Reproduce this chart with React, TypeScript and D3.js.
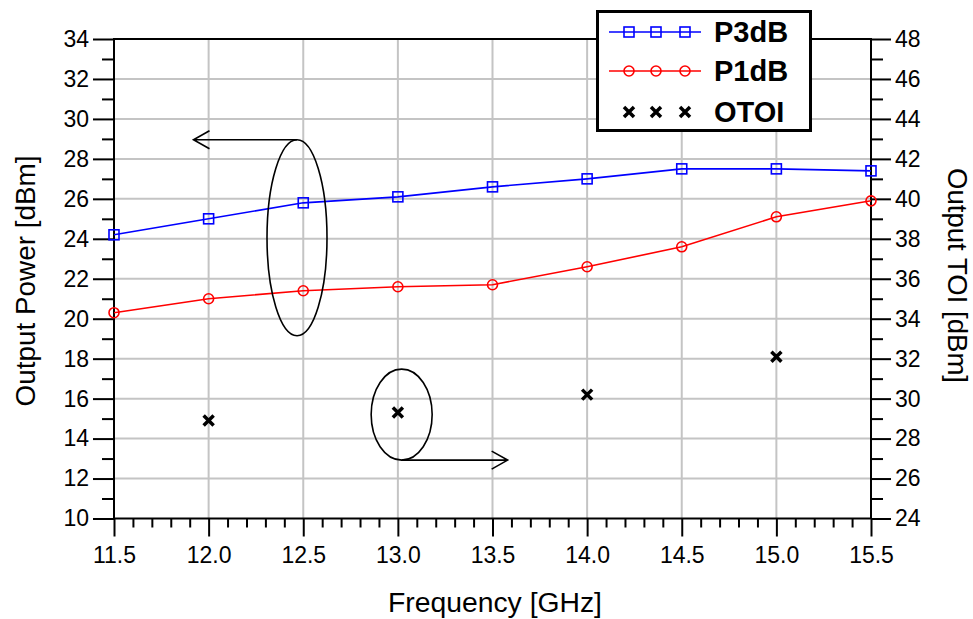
import React, { useEffect, useRef } from 'react';
import * as d3 from 'd3';

// frequency points (GHz)
const freqs = [11.5, 12.0, 12.5, 13.0, 13.5, 14.0, 14.5, 15.0, 15.5];
// left axis series (dBm)
const p3dB = [24.2, 25.0, 25.8, 26.1, 26.6, 27.0, 27.5, 27.5, 27.4];
const p1dB = [20.3, 21.0, 21.4, 21.6, 21.7, 22.6, 23.6, 25.1, 25.9];
// right axis series (dBm)
const otoiFreqs = [12.0, 13.0, 14.0, 15.0];
const otoi = [28.9, 29.3, 30.2, 32.1];

const xTicks = [11.5, 12.0, 12.5, 13.0, 13.5, 14.0, 14.5, 15.0, 15.5];
const leftTicks = [10, 12, 14, 16, 18, 20, 22, 24, 26, 28, 30, 32, 34];
const rightTicks = [24, 26, 28, 30, 32, 34, 36, 38, 40, 42, 44, 46, 48];

const legendNames = ['P3dB', 'P1dB', 'OTOI'];

const FONT = '"Liberation Sans", Arial, Helvetica, sans-serif';

export default function App() {
  const ref = useRef<SVGSVGElement | null>(null);

  useEffect(() => {
    const width = 973, height = 619;
    const left = 114, right = 871, top = 39, bottom = 518.5;

    const svg = d3.select(ref.current);
    svg.selectAll('*').remove();
    svg.attr('width', width).attr('height', height);

    const x = d3.scaleLinear().domain([11.5, 15.5]).range([left, right]);
    const yL = d3.scaleLinear().domain([10, 34]).range([bottom, top]);
    const yR = d3.scaleLinear().domain([24, 48]).range([bottom, top]);

    svg.append('rect').attr('width', width).attr('height', height).attr('fill', '#fff');

    // grid
    const grid = svg.append('g').attr('stroke', '#c4c4c4').attr('stroke-width', 2);
    grid.selectAll('.gx').data(xTicks.slice(1, -1)).enter().append('line')
      .attr('x1', d => x(d)).attr('x2', d => x(d)).attr('y1', top).attr('y2', bottom);
    grid.selectAll('.gy').data(leftTicks.slice(1, -1)).enter().append('line')
      .attr('y1', d => yL(d)).attr('y2', d => yL(d)).attr('x1', left).attr('x2', right);

    // axes
    const styleAxis = (g: any) => {
      g.select('.domain').remove();
      g.selectAll('line').attr('stroke', '#000').attr('stroke-width', 2);
      g.selectAll('text').attr('font-family', FONT).attr('font-size', 23).attr('fill', '#000');
    };

    const xMinor = d3.range(11.6, 15.5, 0.1).filter(v => Math.abs(v * 2 - Math.round(v * 2)) > 1e-6);
    svg.append('g').attr('transform', `translate(0,${bottom})`)
      .call(d3.axisBottom(x).tickValues(xMinor).tickSize(9).tickFormat(() => ''))
      .call(styleAxis);
    svg.append('g').attr('transform', `translate(0,${bottom})`)
      .call(d3.axisBottom(x).tickValues(xTicks).tickSize(18).tickPadding(10).tickFormat(d3.format('.1f')))
      .call(styleAxis);

    const leftMinor = d3.range(11, 34, 2);
    svg.append('g').attr('transform', `translate(${left},0)`)
      .call(d3.axisLeft(yL).tickValues(leftMinor).tickSize(12).tickFormat(() => ''))
      .call(styleAxis);
    svg.append('g').attr('transform', `translate(${left},0)`)
      .call(d3.axisLeft(yL).tickValues(leftTicks).tickSize(21).tickPadding(4).tickFormat(d3.format('d')))
      .call(styleAxis);

    const rightMinor = d3.range(25, 48, 2);
    svg.append('g').attr('transform', `translate(${right},0)`)
      .call(d3.axisRight(yR).tickValues(rightMinor).tickSize(12).tickFormat(() => ''))
      .call(styleAxis);
    svg.append('g').attr('transform', `translate(${right},0)`)
      .call(d3.axisRight(yR).tickValues(rightTicks).tickSize(20).tickPadding(4).tickFormat(d3.format('d')))
      .call(styleAxis);

    // frame
    svg.append('rect').attr('x', left).attr('y', top)
      .attr('width', right - left).attr('height', bottom - top)
      .attr('fill', 'none').attr('stroke', '#000').attr('stroke-width', 2);

    // titles
    svg.append('text').attr('x', 495).attr('y', 612).attr('text-anchor', 'middle')
      .attr('font-family', FONT).attr('font-size', 27)
      .attr('textLength', 214).attr('lengthAdjust', 'spacingAndGlyphs')
      .text('Frequency [GHz]');
    svg.append('text').attr('transform', 'translate(35,281) rotate(-90)').attr('text-anchor', 'middle')
      .attr('font-family', FONT).attr('font-size', 27)
      .attr('textLength', 251).attr('lengthAdjust', 'spacingAndGlyphs')
      .text('Output Power [dBm]');
    svg.append('text').attr('transform', 'translate(948,275.5) rotate(90)').attr('text-anchor', 'middle')
      .attr('font-family', FONT).attr('font-size', 27)
      .attr('textLength', 215).attr('lengthAdjust', 'spacingAndGlyphs')
      .text('Output TOI [dBm]');

    // series
    const lineL = d3.line<number>().x((_, i) => x(freqs[i]));
    svg.append('path').attr('d', lineL.y(d => yL(d))(p3dB))
      .attr('fill', 'none').attr('stroke', '#0000ff').attr('stroke-width', 1.6);
    svg.append('path').attr('d', lineL.y(d => yL(d))(p1dB))
      .attr('fill', 'none').attr('stroke', '#ff0000').attr('stroke-width', 1.6);

    svg.selectAll('.sq').data(p3dB).enter().append('rect')
      .attr('x', (_, i) => x(freqs[i]) - 5).attr('y', d => yL(d) - 5)
      .attr('width', 10).attr('height', 10)
      .attr('fill', 'none').attr('stroke', '#0000ff').attr('stroke-width', 1.6);
    svg.selectAll('.ci').data(p1dB).enter().append('circle')
      .attr('cx', (_, i) => x(freqs[i])).attr('cy', d => yL(d)).attr('r', 5)
      .attr('fill', 'none').attr('stroke', '#ff0000').attr('stroke-width', 1.6);

    const cross = (cx: number, cy: number, s: number) =>
      `M${cx - s},${cy - s}L${cx + s},${cy + s}M${cx - s},${cy + s}L${cx + s},${cy - s}`;
    svg.selectAll('.xx').data(otoi).enter().append('path')
      .attr('d', (d, i) => cross(x(otoiFreqs[i]), yR(d), 5))
      .attr('stroke', '#000').attr('stroke-width', 3.5).attr('fill', 'none');

    // annotations: ellipses with arrows pointing to their axis
    const ann = svg.append('g').attr('fill', 'none').attr('stroke', '#000').attr('stroke-width', 1.6);
    const e1x = x(12.467), e1y = yL(24.05), e1rx = 30, e1ry = 98;
    ann.append('ellipse').attr('cx', e1x).attr('cy', e1y).attr('rx', e1rx).attr('ry', e1ry);
    const a1y = e1y - e1ry, a1x = x(11.92);
    ann.append('path').attr('d', `M${e1x},${a1y}L${a1x},${a1y}M${a1x + 16},${a1y - 9}L${a1x},${a1y}L${a1x + 16},${a1y + 9}`);

    const e2x = x(13.02), e2y = yR(29.2), e2rx = 30.5, e2ry = 45.5;
    ann.append('ellipse').attr('cx', e2x).attr('cy', e2y).attr('rx', e2rx).attr('ry', e2ry);
    const a2y = e2y + e2ry, a2x = x(13.58);
    ann.append('path').attr('d', `M${e2x},${a2y}L${a2x},${a2y}M${a2x - 16},${a2y - 9}L${a2x},${a2y}L${a2x - 16},${a2y + 9}`);

    // legend
    const lg = svg.append('g');
    lg.append('rect').attr('x', 597.5).attr('y', 11.5).attr('width', 213).attr('height', 119)
      .attr('fill', '#fff').attr('stroke', '#000').attr('stroke-width', 3);
    const rowY = [32, 71, 112];
    const mx = [629, 656, 685];
    legendNames.forEach((name, i) => {
      const y = rowY[i];
      if (i === 0) {
        lg.append('line').attr('x1', 609).attr('x2', 701).attr('y1', y).attr('y2', y)
          .attr('stroke', '#0000ff').attr('stroke-width', 1.6);
        mx.forEach(m => lg.append('rect').attr('x', m - 5).attr('y', y - 5).attr('width', 10).attr('height', 10)
          .attr('fill', 'none').attr('stroke', '#0000ff').attr('stroke-width', 1.6));
      } else if (i === 1) {
        lg.append('line').attr('x1', 609).attr('x2', 701).attr('y1', y).attr('y2', y)
          .attr('stroke', '#ff0000').attr('stroke-width', 1.6);
        mx.forEach(m => lg.append('circle').attr('cx', m).attr('cy', y).attr('r', 5)
          .attr('fill', 'none').attr('stroke', '#ff0000').attr('stroke-width', 1.6));
      } else {
        mx.forEach(m => lg.append('path').attr('d', cross(m, y, 5))
          .attr('stroke', '#000').attr('stroke-width', 3.5));
      }
      lg.append('text').attr('x', 714).attr('y', y).attr('dy', '0.36em')
        .attr('font-family', FONT).attr('font-size', 29).attr('font-weight', 'bold')
        .text(name);
    });
  }, []);

  return (
    <svg ref={ref} style={{ position: 'absolute', left: 0, top: 0, display: 'block' }} />
  );
}
